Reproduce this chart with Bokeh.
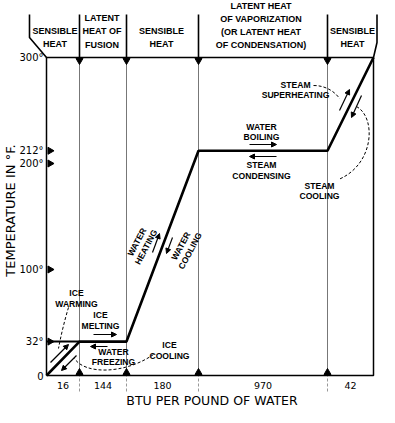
import numpy as np
from bokeh.plotting import figure
from bokeh.models import Range1d, Arrow, NormalHead, ColumnDataSource
from bokeh.core.properties import value
from bokeh.embed import file_html
from bokeh.resources import INLINE

# ---------------- data ----------------
STAGES = ["Sensible heat (ice)", "Latent heat of fusion", "Sensible heat (water)",
          "Latent heat of vaporization", "Sensible heat (steam)"]
BTU_PER_STAGE = [16, 144, 180, 970, 42]
STAGE_TEMPS = [0, 32, 32, 212, 212, 300]          # °F at each stage boundary
Y_TICKS = [0, 32, 100, 200, 212, 300]
Y_TICK_LABELS = ["0", "32°", "100°", "200°", "212°", "300°"]
Y_TICK_MARKS = [32, 100, 200, 212]
HEADER_LABELS = ["SENSIBLE\nHEAT", "LATENT\nHEAT OF\nFUSION", "SENSIBLE\nHEAT",
                 "LATENT HEAT\nOF VAPORIZATION\n(OR LATENT HEAT\nOF CONDENSATION)",
                 "SENSIBLE\nHEAT"]
PROCESS_LABELS = ["ICE\nWARMING", "ICE\nMELTING", "WATER\nFREEZING", "ICE\nCOOLING",
                  "WATER\nBOILING", "STEAM\nCONDENSING", "STEAM\nSUPERHEATING",
                  "STEAM\nCOOLING"]
ROTATED_LABELS = ["WATER\nHEATING", "WATER\nCOOLING"]
X_TITLE = "BTU PER POUND OF WATER"
Y_TITLE = "TEMPERATURE IN °F."

# ---------------- layout (schematic widths, not to scale) ----------------
SEG_SPAN = [33, 47, 72, 129, 46]
BOX_L, ZERO_Y, PPD = 50.0, 383.0, 318.0 / 300.0


def dx(ix):
    return ix - BOX_L


def dy(iy):
    return (ZERO_Y - iy) / PPD


bounds = np.concatenate([[0], np.cumsum(SEG_SPAN)])
mids = (bounds[:-1] + bounds[1:]) / 2
x_right = bounds[-1]
t_top = STAGE_TEMPS[-1]

p = figure(width=379, height=407, x_range=Range1d(dx(4), dx(383)),
           y_range=Range1d(dy(415), dy(8)), output_backend="svg",
           toolbar_location=None, min_border=0,
           x_axis_location=None, y_axis_location=None)
p.grid.visible = False
p.outline_line_color = None
p.background_fill_color = "white"
p.border_fill_color = "white"

# dividers
inner = bounds[1:-1]
p.segment(x0=inner, y0=[0] * len(inner), x1=inner, y1=[t_top] * len(inner),
          line_color="#777777", line_width=1)
p.segment(x0=inner, y0=[dy(399)] * len(inner), x1=inner, y1=[0] * len(inner),
          line_color="#999999", line_width=1, line_dash="3 2")
p.segment(x0=inner, y0=[t_top] * len(inner), x1=inner, y1=[dy(22)] * len(inner),
          line_color="black", line_width=1.6)
# header outline edges
p.line([0, dx(33), dx(33)], [t_top, dy(45), dy(22)], line_color="black", line_width=1.6)
p.line([x_right, dx(380.5), dx(380.5)], [t_top, dy(50), dy(22)], line_color="black", line_width=1.6)

# frame box
p.line([0, 0, x_right, x_right, 0], [0, t_top, t_top, 0, 0], line_color="black", line_width=1.5)

# 32° line across ice segment
p.line([0, bounds[1]], [STAGE_TEMPS[1], STAGE_TEMPS[1]], line_color="black", line_width=2)

# main heating curve
p.line(bounds, STAGE_TEMPS, line_color="black", line_width=2.6)

# markers
p.scatter(inner, [dy(68)] * len(inner), marker="inverted_triangle", size=7, color="black")
p.scatter(inner, [dy(380)] * len(inner), marker="triangle", size=7, color="black")
p.scatter([dx(53.5)] * len(Y_TICK_MARKS), Y_TICK_MARKS, marker="triangle",
          angle=-np.pi / 2, size=7, color="black")

# y tick labels
p.text([dx(47)] * len(Y_TICKS), Y_TICKS, text=Y_TICK_LABELS, text_font=value("DejaVu Sans"),
       text_font_size="10px", text_align="right", text_baseline="middle", text_color="black")

# BTU values
p.text(mids, [dy(393)] * len(mids), text=[str(b) for b in BTU_PER_STAGE],
       text_font=value("DejaVu Sans"), text_font_size="9.5px", text_align="center",
       text_baseline="middle", text_color="black")

# header labels
hx = [dx(58.5), dx(105.5), dx(165), dx(264.5), dx(356)]
hy = [dy(45), dy(39), dy(45), dy(33), dy(45)]
p.text(hx, hy, text=HEADER_LABELS, text_font=value("Liberation Sans"), text_font_style="bold",
       text_font_size="9px", text_align="center", text_baseline="middle",
       text_line_height=1.33, text_color="black")

# process labels
px_ = [80, 104, 117, 173, 265, 265, 299, 323]
py_ = [306, 328, 364.5, 358, 139.5, 178, 97.5, 198.5]
p.text([dx(v) for v in px_], [dy(v) for v in py_], text=PROCESS_LABELS,
       text_font=value("Liberation Sans"), text_font_style="bold", text_font_size="8.6px",
       text_align="center", text_baseline="middle", text_line_height=1.05, text_color="black")

# rotated labels along the water line
p.text([dx(145), dx(189)], [dy(252), dy(256)], text=ROTATED_LABELS,
       text_font=value("Liberation Sans"), text_font_style="bold", text_font_size="8.6px",
       text_align="center", text_baseline="middle", text_line_height=1.05,
       angle=np.deg2rad(62), text_color="black")

# arrows
arr = [((54, 370), (72, 352)), ((80, 363), (65, 378)), ((97, 342), (120, 342)),
       ((111, 354), (94, 354)), ((156, 260), (163, 241)), ((176, 245), (170, 261)),
       ((253, 152), (280, 152)), ((280, 164), (253, 164)), ((343, 118), (353, 97)),
       ((365, 103), (355, 125))]
src = ColumnDataSource(dict(
    xs=[dx(a[0][0]) for a in arr], ys=[dy(a[0][1]) for a in arr],
    xe=[dx(a[1][0]) for a in arr], ye=[dy(a[1][1]) for a in arr]))
p.add_layout(Arrow(end=NormalHead(size=5, fill_color="black", line_color="black", line_width=1),
                   x_start="xs", y_start="ys", x_end="xe", y_end="ye", source=src,
                   line_color="black", line_width=1.2))

# dashed leader curves
curves = [((72, 315), (62, 356), (68, 328), (64, 345)),
          ((157, 362), (78, 366), (128, 382), (88, 382)),
          ((317, 93), (343, 106), (330, 93), (339, 100)),
          ((360, 114), (342, 187), (380, 125), (378, 172))]
p.bezier(x0=[dx(c[0][0]) for c in curves], y0=[dy(c[0][1]) for c in curves],
         x1=[dx(c[1][0]) for c in curves], y1=[dy(c[1][1]) for c in curves],
         cx0=[dx(c[2][0]) for c in curves], cy0=[dy(c[2][1]) for c in curves],
         cx1=[dx(c[3][0]) for c in curves], cy1=[dy(c[3][1]) for c in curves],
         line_color="black", line_width=1, line_dash="3 2")

# axis titles
p.text([dx(215.5)], [dy(408)], text=[X_TITLE], text_font=value("DejaVu Sans"),
       text_font_size="12.5px", text_align="center", text_baseline="middle", text_color="black")
p.text([dx(14)], [dy(218)], text=[Y_TITLE], text_font=value("DejaVu Sans"),
       text_font_size="13px", text_align="center", text_baseline="middle",
       angle=np.pi / 2, text_color="black")

open("out.html", "w").write(file_html(p, INLINE))
